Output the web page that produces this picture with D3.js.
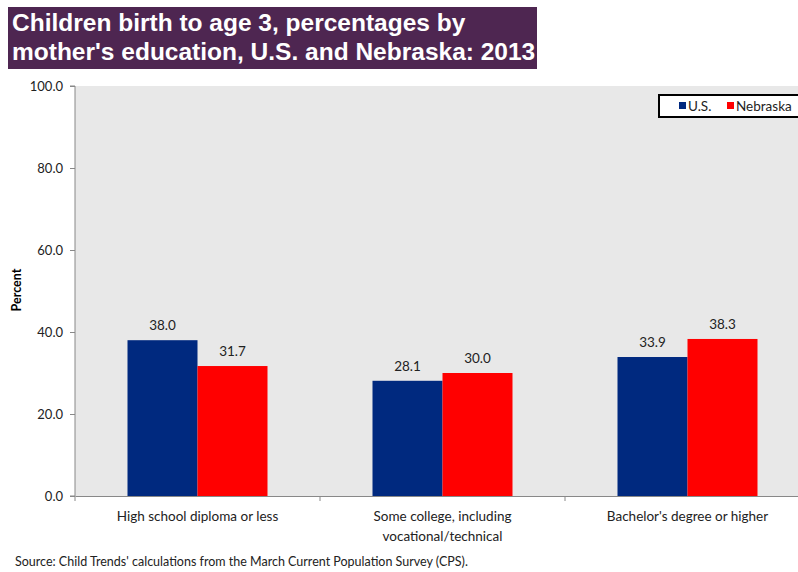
<!DOCTYPE html>
<html lang="en">
<head>
<meta charset="UTF-8" />
<title>Children birth to age 3</title>
<script src="https://d3js.org/d3.v7.min.js"></script>
<style>
  body { margin: 0; background: #fff; }
  text { font-family: Lato, "Open Sans", sans-serif; }
</style>
</head>
<body>
<div id="chart"></div>
<script>
// data
const categories = ["High school diploma or less", "Some college, including|vocational/technical", "Bachelor's degree or higher"];
const seriesNames = ["U.S.", "Nebraska"];
const usValues = [38.0, 28.1, 33.9];
const nebraskaValues = [31.7, 30.0, 38.3];
const yTicks = [0, 20, 40, 60, 80, 100];
const seriesColors = ["#00297F", "#FF0000"];

const width = 798, height = 572;
const margin = { top: 86, right: -12, bottom: 76, left: 75 };

const svg = d3.select("#chart").append("svg")
  .attr("width", width)
  .attr("height", height);

// title box
svg.append("rect")
  .attr("x", 8).attr("y", 7).attr("width", 529).attr("height", 62)
  .attr("fill", "#4E2651");
const titleLines = ["Children birth to age 3, percentages by", "mother's education, U.S. and Nebraska: 2013"];
svg.append("text")
  .attr("x", 12).attr("y", 31)
  .attr("fill", "#fff")
  .style("font-family", "'Liberation Sans', Arial, sans-serif")
  .style("font-weight", "bold")
  .style("font-size", "24.5px")
  .selectAll("tspan").data(titleLines).join("tspan")
  .attr("x", 12)
  .attr("dy", (d, i) => i === 0 ? 0 : 29)
  .text(d => d);

const plotW = width - margin.left - margin.right;
const plotH = height - margin.top - margin.bottom;

const g = svg.append("g").attr("transform", `translate(${margin.left},${margin.top})`);

g.append("rect").attr("width", plotW).attr("height", plotH).attr("fill", "#E8E8E8");

const x = d3.scaleBand().domain(categories).range([0, plotW]);
const xs = d3.scaleBand().domain(seriesNames).range([0, x.bandwidth()]).paddingOuter(0.75);
const y = d3.scaleLinear().domain([0, 100]).range([plotH, 0]);

// y axis
const yAxis = g.append("g")
  .call(d3.axisLeft(y).tickValues(yTicks).tickSize(5).tickFormat(d3.format(".1f")));
yAxis.select(".domain").attr("stroke", "#888").attr("d", `M-5,0H0V${plotH}H-5`);
yAxis.selectAll(".tick line").attr("stroke", "#888");
yAxis.selectAll(".tick text").attr("fill", "#222").style("font-size", "13px").attr("x", -12);

// x axis
const xAxis = g.append("g").attr("transform", `translate(0,${plotH})`)
  .call(d3.axisBottom(x).tickSize(0).tickFormat(""));
xAxis.select(".domain").attr("stroke", "#888");
categories.forEach((c, i) => {
  g.append("line")
    .attr("x1", x(c)).attr("x2", x(c))
    .attr("y1", plotH).attr("y2", plotH + 5)
    .attr("stroke", "#888");
});
g.append("g").selectAll("text").data(categories).join("text")
  .attr("x", d => x(d) + x.bandwidth() / 2)
  .attr("y", plotH + 25)
  .attr("text-anchor", "middle")
  .attr("fill", "#222")
  .style("font-size", "13.5px")
  .selectAll("tspan").data(d => d.split("|")).join("tspan")
  .attr("x", function () { return d3.select(this.parentNode).attr("x"); })
  .attr("dy", (d, i) => i === 0 ? 0 : 20)
  .text(d => d);

// bars
const rows = categories.map((c, i) => ({ cat: c, vals: [usValues[i], nebraskaValues[i]] }));
const groups = g.selectAll(".grp").data(rows).join("g")
  .attr("transform", d => `translate(${x(d.cat)},0)`);
groups.selectAll("rect").data(d => d.vals.map((v, j) => ({ s: seriesNames[j], v, j })))
  .join("rect")
  .attr("x", d => xs(d.s))
  .attr("y", d => y(d.v))
  .attr("width", xs.bandwidth())
  .attr("height", d => plotH - y(d.v))
  .attr("fill", d => seriesColors[d.j]);
groups.selectAll(".lbl").data(d => d.vals.map((v, j) => ({ s: seriesNames[j], v, j })))
  .join("text")
  .attr("x", d => xs(d.s) + xs.bandwidth() / 2)
  .attr("y", d => y(d.v) - 10)
  .attr("text-anchor", "middle")
  .attr("fill", "#222")
  .style("font-size", "13.5px")
  .text(d => d.v.toFixed(1));

// y label
svg.append("text")
  .attr("transform", "translate(21,290) rotate(-90)")
  .attr("text-anchor", "middle")
  .style("font-size", "12.5px")
  .style("font-weight", "bold")
  .text("Percent");

// legend
const lg = svg.append("g").attr("transform", "translate(659,95)");
lg.append("rect").attr("width", 142).attr("height", 22)
  .attr("fill", "#fff").attr("stroke", "#000").attr("stroke-width", 2);
const legX = [20, 68];
seriesNames.forEach((s, i) => {
  lg.append("rect").attr("x", legX[i]).attr("y", 7).attr("width", 7).attr("height", 7)
    .attr("fill", seriesColors[i]);
  lg.append("text").attr("x", legX[i] + 9).attr("y", 16)
    .style("font-size", "13.5px").attr("fill", "#222").text(s);
});

// source
svg.append("text")
  .attr("x", 15).attr("y", 566)
  .style("font-size", "12.5px").attr("fill", "#222")
  .text("Source: Child Trends' calculations from the March Current Population Survey (CPS).");
</script>
</body>
</html>
